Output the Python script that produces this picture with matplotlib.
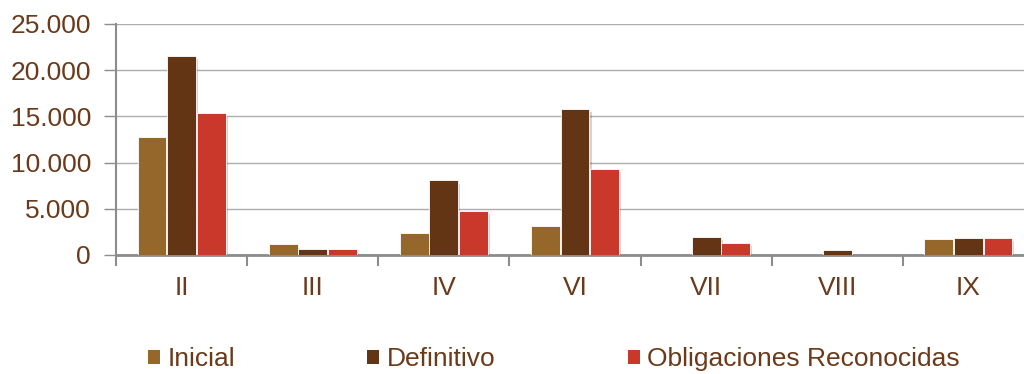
import numpy as np
import matplotlib.pyplot as plt
import matplotlib.patheffects as pe
from matplotlib.patches import Patch
from matplotlib.ticker import FuncFormatter, FixedLocator

plt.rcParams['font.family'] = ['Liberation Sans Narrow', 'Liberation Sans', 'DejaVu Sans']

categorias = ['II', 'III', 'IV', 'VI', 'VII', 'VIII', 'IX']
inicial = [12750, 1150, 2350, 3100, 0, 0, 1700]
definitivo = [21550, 600, 8100, 15850, 2000, 500, 1850]
obligaciones = [15350, 600, 4800, 9350, 1300, 0, 1850]

series = [('Inicial', inicial, '#96672B'),
          ('Definitivo', definitivo, '#643514'),
          ('Obligaciones Reconocidas', obligaciones, '#C9382A')]

texto = '#6B3A1A'
rejilla = '#ADADAD'

fig = plt.figure(figsize=(10.24, 3.74), dpi=100)
ax = fig.add_axes([116 / 1024, 1 - 255 / 374, 918 / 1024, 231 / 374])

x = np.arange(len(categorias))
ancho = 0.22
sombra = [pe.SimplePatchShadow(offset=(1.5, -2.5), alpha=0.18), pe.Normal()]
for i, (nombre, valores, color) in enumerate(series):
    barras = ax.bar(x + (i - 1) * 0.225, valores, ancho, color=color,
                    edgecolor='white', linewidth=0.6, zorder=3)
    for b in barras:
        if b.get_height() > 0:
            b.set_path_effects(sombra)

ax.set_xlim(-0.5, len(categorias) - 0.5)
ax.set_ylim(0, 25000)
ax.set_yticks(np.arange(0, 25001, 5000))
ax.yaxis.set_major_formatter(FuncFormatter(lambda v, p: f'{int(v):,}'.replace(',', '.')))
ax.grid(axis='y', color=rejilla, linewidth=1, zorder=0)

ax.set_xticks(x)
ax.set_xticklabels(categorias)
ax.xaxis.set_minor_locator(FixedLocator(np.arange(-0.5, len(categorias), 1)))
ax.tick_params(axis='x', which='major', length=0, pad=15, labelsize=19, labelcolor=texto)
ax.tick_params(axis='x', which='minor', length=8, width=1.5, color='#8C8C8C')
ax.tick_params(axis='y', length=9, width=1, color='#8C8C8C', labelsize=19,
               labelcolor=texto, pad=9)

for s in ['top', 'right']:
    ax.spines[s].set_visible(False)
ax.spines['left'].set_color('#8C8C8C')
ax.spines['left'].set_linewidth(1.5)
ax.spines['bottom'].set_color('#8C8C8C')
ax.spines['bottom'].set_linewidth(2)

manejadores = [Patch(facecolor=c, edgecolor='none', label=n) for n, _, c in series]
fig.legend(handles=manejadores, loc='center', bbox_to_anchor=(554 / 1024, 1 - 359 / 374),
           ncol=3, frameon=False, fontsize=19, labelcolor=texto, handlelength=0.45,
           handleheight=0.45, handletextpad=0.3, columnspacing=5.0)

fig.savefig('out.png', dpi=100)
